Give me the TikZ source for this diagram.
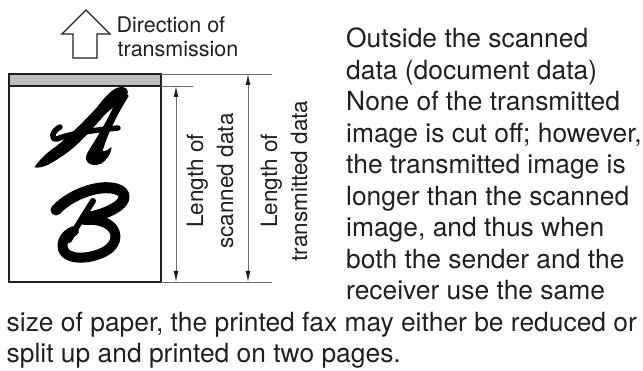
\documentclass[tikz,border=0pt]{standalone}
\usepackage{fontspec}
\setmainfont{TeX Gyre Heros}
\usetikzlibrary{arrows.meta}
\definecolor{ink}{HTML}{231F20}
\definecolor{band}{HTML}{BCBEC0}
\definecolor{dimgray}{HTML}{6D6E71}
\tikzset{
  dimline/.style={draw=dimgray, line width=0.8pt},
  dimarrow/.style={draw=dimgray, line width=0.9pt,
    {Latex[length=11pt,width=5pt,color=ink]}-{Latex[length=11pt,width=5pt,color=ink]}},
  bodytext/.style={anchor=base west, inner sep=0pt, font=\fontsize{26.4}{31.5}\selectfont, text=ink},
  lbl/.style={anchor=base, inner sep=0pt, rotate=90, font=\fontsize{22.5}{26}\selectfont, text=ink},
  dirtext/.style={anchor=base west, inner sep=0pt, font=\fontsize{21.5}{24}\selectfont, text=ink},
  brush/.style={draw=black, fill=black, line join=round, line cap=round},
  brushline/.style={draw=black, fill=none, line join=round, line cap=round},
  hollow/.style={draw=ink, line width=1.3pt, line join=miter, fill=white},
  docbox/.style={draw=ink, line width=1.6pt},
}
\begin{document}
\begin{tikzpicture}[x=1pt, y=-1pt]
\useasboundingbox (0,0) rectangle (643,371);
% direction arrow
\draw[hollow] (86,10) -- (110,34) -- (97,34) -- (97,58) -- (73,58) -- (73,34) -- (62,34) -- cycle;
\node[dirtext] (dir1) at (116.5,33) {Direction of};
\node[dirtext] (dir2) at (117.5,57) {transmission};
% document
\coordinate (tl) at (9,74);
\coordinate (tr) at (161,74);
\coordinate (bl) at (9,282);
\coordinate (br) at (161,282);
\coordinate (bandl) at (9,86);
\coordinate (bandr) at (161,86);
\fill[band] (tl) rectangle (bandr);
\draw[docbox] (bandl) -- (bandr);
\draw[docbox] (tl) rectangle (br);
% letter A
\fill[brush, line width=0.8pt] (35,167) .. controls (40,160) and (48,152) .. (56,147)
  .. controls (72,134) and (82,124) .. (96.8,108.2)
  .. controls (105,97) and (112,90) .. (118,88) .. controls (124,86) and (129,89) .. (127,95)
  .. controls (125,100) and (112,106) .. (103.3,115.8) .. controls (88,133) and (75,148) .. (60,157)
  .. controls (50,164) and (42,168) .. (35,167) -- cycle;
\fill[brush, line width=1.2pt] (120,92) .. controls (112,115) and (99,135) .. (88,153)
  .. controls (83,162) and (92,167) .. (101,163) .. controls (106,160) and (110,154) .. (111,148)
  .. controls (108,151) and (104,153) .. (102,151) .. controls (107,133) and (118,112) .. (128,96) -- cycle;
\draw[brushline, line width=5.5pt] (60,127) .. controls (52,131) and (50,140) .. (57,139)
  .. controls (72,133) and (95,130) .. (118,128);
% letter B
\draw[brushline, line width=11pt] (56,210) .. controls (75,190) and (110,182) .. (122,192)
  .. controls (130,200) and (115,212) .. (90,217);
\draw[brushline, line width=10pt] (84,220) .. controls (118,217) and (124,242) .. (104,252)
  .. controls (88,260) and (66,260) .. (63,249) .. controls (61,241) and (66,234) .. (74,231);
\draw[brushline, line width=6pt] (93,201) .. controls (84,215) and (76,228) .. (69,240);
% dimension lines
\coordinate (ext1) at (272,74);
\coordinate (ext2) at (193,86);
\coordinate (ext3) at (272,282);
\draw[dimline] (tr) -- (ext1);
\draw[dimline] (bandr) -- (ext2);
\draw[dimline] (br) -- (ext3);
\coordinate (sa) at (176,86);
\coordinate (sb) at (176,282);
\coordinate (ta) at (248,74);
\coordinate (tb) at (248,282);
\draw[dimarrow] (sa) -- (sb);
\draw[dimarrow] (ta) -- (tb);
\node[lbl] (l1) at (203,181) {Length of};
\node[lbl] (l2) at (233,181) {scanned data};
\node[lbl] (l3) at (277,181) {Length of};
\node[lbl] (l4) at (307,181) {transmitted data};
% body text
\node[bodytext] (t1) at (346,48) {Outside the scanned};
\node[bodytext] (t2) at (346,79.5) {data (document data)};
\node[bodytext] (t3) at (346,111) {None of the transmitted};
\node[bodytext] (t4) at (346,142.5) {image is cut off; however,};
\node[bodytext] (t5) at (346,174) {the transmitted image is};
\node[bodytext] (t6) at (346,205.5) {longer than the scanned};
\node[bodytext] (t7) at (346,237) {image, and thus when};
\node[bodytext] (t8) at (346,268.5) {both the sender and the};
\node[bodytext] (t9) at (346,300) {receiver use the same};
\node[bodytext] (t10) at (6.5,331.5) {size of paper, the printed fax may either be reduced or};
\node[bodytext] (t11) at (6.5,363) {split up and printed on two pages.};
\end{tikzpicture}
\end{document}
